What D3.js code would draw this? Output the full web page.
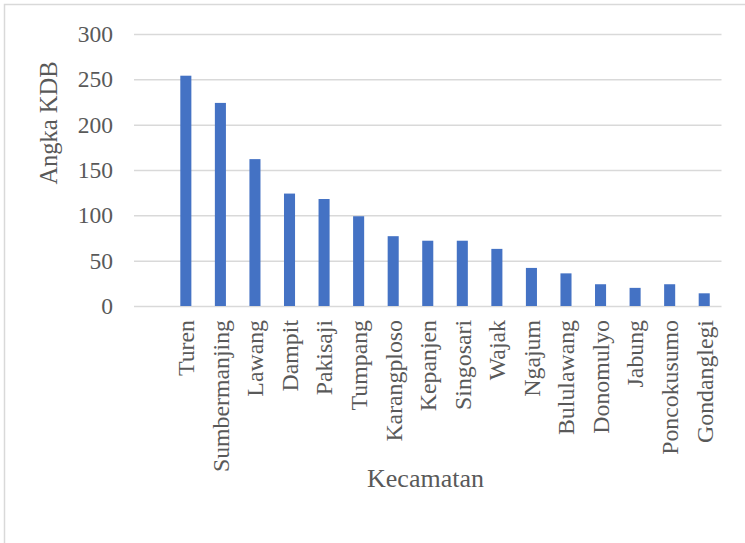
<!DOCTYPE html>
<html>
<head>
<meta charset="utf-8">
<script src="https://cdn.jsdelivr.net/npm/d3@7"></script>
<style>
  html, body { margin: 0; padding: 0; background: #fff; }
  svg { display: block; }
  text { font-family: "Liberation Serif", "Times New Roman", serif; fill: #595959; }
</style>
</head>
<body>
<svg id="chart" width="745" height="543"></svg>
<script>
const categories = ["Turen", "Sumbermanjing", "Lawang", "Dampit", "Pakisaji", "Tumpang", "Karangploso", "Kepanjen", "Singosari", "Wajak", "Ngajum", "Bululawang", "Donomulyo", "Jabung", "Poncokusumo", "Gondanglegi"];
const values = [254, 224, 162, 124, 118, 99, 77, 72, 72, 63, 42, 36, 24, 20, 24, 14];
const yTicks = [0, 50, 100, 150, 200, 250, 300];
const yTitle = "Angka KDB";
const xTitle = "Kecamatan";

const svg = d3.select("#chart");

// chart border
svg.append("rect")
  .attr("x", 4.5).attr("y", 4.5)
  .attr("width", 800).attr("height", 600)
  .attr("fill", "none").attr("stroke", "#d9d9d9").attr("stroke-width", 1.5);

const plotLeft = 134, plotRight = 721.5, plotTop = 34, plotBottom = 306;
const step = (plotRight - plotLeft) / 17;

const x = d3.scaleBand()
  .domain(categories)
  .range([plotLeft + step, plotRight])
  .paddingInner(0.68)
  .paddingOuter(0.34);

const y = d3.scaleLinear().domain([0, 300]).range([plotBottom, plotTop]);

// gridlines
const yAxis = d3.axisLeft(y).tickValues(yTicks).tickSize(-(plotRight - plotLeft)).tickPadding(21);
const gy = svg.append("g").attr("transform", `translate(${plotLeft},0)`).call(yAxis);
gy.select(".domain").remove();
gy.selectAll(".tick line").attr("stroke", "#d9d9d9").attr("stroke-width", 1.5);
gy.selectAll(".tick text")
  .attr("font-size", 23.5)
  .attr("font-family", "Liberation Serif, Times New Roman, serif")
  .attr("fill", "#595959");

// bars
svg.append("g").selectAll("rect")
  .data(values)
  .join("rect")
  .attr("x", (d, i) => x(categories[i]))
  .attr("width", x.bandwidth())
  .attr("y", d => y(d))
  .attr("height", d => y(0) - y(d))
  .attr("fill", "#4472c4");

// x axis labels
const xAxis = d3.axisBottom(x).tickSize(0).tickPadding(0);
const gx = svg.append("g").attr("transform", `translate(0,${plotBottom})`).call(xAxis);
gx.select(".domain").remove();
gx.selectAll(".tick text")
  .attr("font-size", 23.8)
  .attr("font-family", "Liberation Serif, Times New Roman, serif")
  .attr("fill", "#595959")
  .attr("text-anchor", "end")
  .attr("transform", "rotate(-90)")
  .attr("x", -14)
  .attr("y", 0)
  .attr("dy", "0.35em");

// axis titles
svg.append("text")
  .attr("transform", `translate(57,123) rotate(-90)`)
  .attr("text-anchor", "middle")
  .attr("font-size", 24.5)
  .text(yTitle);

svg.append("text")
  .attr("x", 425.5).attr("y", 486.5)
  .attr("text-anchor", "middle")
  .attr("font-size", 26)
  .text(xTitle);
</script>
</body>
</html>
